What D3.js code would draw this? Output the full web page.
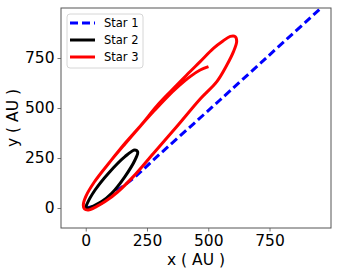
<!DOCTYPE html>
<html>
<head>
<meta charset="utf-8">
<script src="https://cdn.jsdelivr.net/npm/d3@7"></script>
<style>
  body { margin: 0; background: #fff; }
  text { font-family: "DejaVu Sans", sans-serif; }
</style>
</head>
<body>
<div id="chart"></div>
<script>
// orbit tracks (AU)
var star1X = [0, 50, 113, 194, 283, 480, 548, 739, 954, 1000];
var star1Y = [0, 15, 73, 148, 248, 465, 540, 753, 993, 1045];

var star2X = [4, 65, 106, 160, 201, 212, 200, 160, 92, 38, 5, 0];
var star2Y = [-2, 32, 73, 157, 240, 280, 290, 257, 173, 90, 20, 0];

var star3X = [501, 467, 426, 380, 330, 280, 220, 160, 95, 35, 0, -10, -5, 11, 45, 79, 130, 194, 276, 370, 467, 535, 576, 603, 616, 610, 590, 560, 521, 467, 412, 344, 290, 228, 162, 97];
var star3Y = [707, 690, 657, 610, 552, 487, 405, 320, 225, 130, 57, 15, -5, -10, 8, 32, 80, 157, 273, 405, 545, 632, 715, 782, 832, 857, 858, 835, 798, 732, 665, 580, 510, 418, 326, 228];

var starNames = ["Star 1", "Star 2", "Star 3"];
var starColors = ["#0000ff", "#000000", "#ff0000"];

var xTicks = [0, 250, 500, 750];
var yTicks = [0, 250, 500, 750];

var width = 340,
    height = 274,
    margin = {top: 8, right: 9, bottom: 46, left: 61};

var plotW = width - margin.left - margin.right,
    plotH = height - margin.top - margin.bottom;

var xScale = d3.scaleLinear()
    .domain([-101, 1001])
    .range([0, plotW]);

var yScale = d3.scaleLinear()
    .domain([-100, 1000])
    .range([plotH, 0]);

function toPoints(xs, ys) {
    return xs.map(function(x, i) { return [x, ys[i]]; });
}

var svg = d3.select("#chart")
    .append("svg")
    .attr("width", width)
    .attr("height", height)
    .append("g")
    .attr("transform", "translate(" + margin.left + "," + margin.top + ")");

svg.append("clipPath")
    .attr("id", "plotClip")
    .append("rect")
    .attr("width", plotW)
    .attr("height", plotH);

var plot = svg.append("g").attr("clip-path", "url(#plotClip)");

var openLine = d3.line()
    .x(function(d) { return xScale(d[0]); })
    .y(function(d) { return yScale(d[1]); })
    .curve(d3.curveCatmullRom);

var closedLine = d3.line()
    .x(function(d) { return xScale(d[0]); })
    .y(function(d) { return yScale(d[1]); })
    .curve(d3.curveCatmullRomClosed);

plot.append("path")
    .attr("d", openLine(toPoints(star1X, star1Y)))
    .attr("fill", "none")
    .attr("stroke", starColors[0])
    .attr("stroke-width", 3)
    .attr("stroke-dasharray", "8,4");

plot.append("path")
    .attr("d", closedLine(toPoints(star2X, star2Y)))
    .attr("fill", "none")
    .attr("stroke", starColors[1])
    .attr("stroke-width", 3);

plot.append("path")
    .attr("d", openLine(toPoints(star3X, star3Y)))
    .attr("fill", "none")
    .attr("stroke", starColors[2])
    .attr("stroke-width", 3)
    .attr("stroke-linejoin", "round");

// axes
var xAxis = svg.append("g")
    .attr("transform", "translate(0," + plotH + ")")
    .call(d3.axisBottom(xScale).tickValues(xTicks).tickSize(3.5).tickPadding(3).tickFormat(d3.format("d")));

var yAxis = svg.append("g")
    .call(d3.axisLeft(yScale).tickValues(yTicks).tickSize(3.5).tickPadding(3).tickFormat(d3.format("d")));

[xAxis, yAxis].forEach(function(ax) {
    ax.select(".domain").remove();
    ax.selectAll(".tick line").attr("stroke", "#555").attr("stroke-width", 0.8);
    ax.selectAll(".tick text")
        .attr("fill", "#000")
        .style("font-size", "15.5px")
        .style("font-family", "DejaVu Sans");
});

svg.append("rect")
    .attr("width", plotW)
    .attr("height", plotH)
    .attr("fill", "none")
    .attr("stroke", "#555")
    .attr("stroke-width", 1);

svg.append("text")
    .attr("x", plotW / 2)
    .attr("y", plotH + 37)
    .attr("text-anchor", "middle")
    .style("font-size", "15.5px")
    .text("x ( AU )");

svg.append("text")
    .attr("transform", "translate(" + (-43) + "," + (plotH / 2) + ") rotate(-90)")
    .attr("text-anchor", "middle")
    .style("font-size", "15.5px")
    .text("y ( AU )");

// legend
var legend = svg.append("g")
    .attr("transform", "translate(6,6)");

legend.append("rect")
    .attr("width", 76)
    .attr("height", 54)
    .attr("rx", 3)
    .attr("fill", "#fff")
    .attr("fill-opacity", 0.8)
    .attr("stroke", "#ccc")
    .attr("stroke-width", 0.8);

var entries = legend.selectAll(".entry")
    .data(starNames)
    .enter()
    .append("g")
    .attr("class", "entry")
    .attr("transform", function(d, i) { return "translate(0," + (9 + i * 17) + ")"; });

entries.append("line")
    .attr("x1", 3)
    .attr("x2", 28)
    .attr("stroke", function(d, i) { return starColors[i]; })
    .attr("stroke-width", 3)
    .attr("stroke-dasharray", function(d, i) { return i === 0 ? "8,4" : null; });

entries.append("text")
    .attr("x", 37)
    .attr("dy", "0.35em")
    .style("font-size", "11.5px")
    .text(function(d) { return d; });
</script>
</body>
</html>
